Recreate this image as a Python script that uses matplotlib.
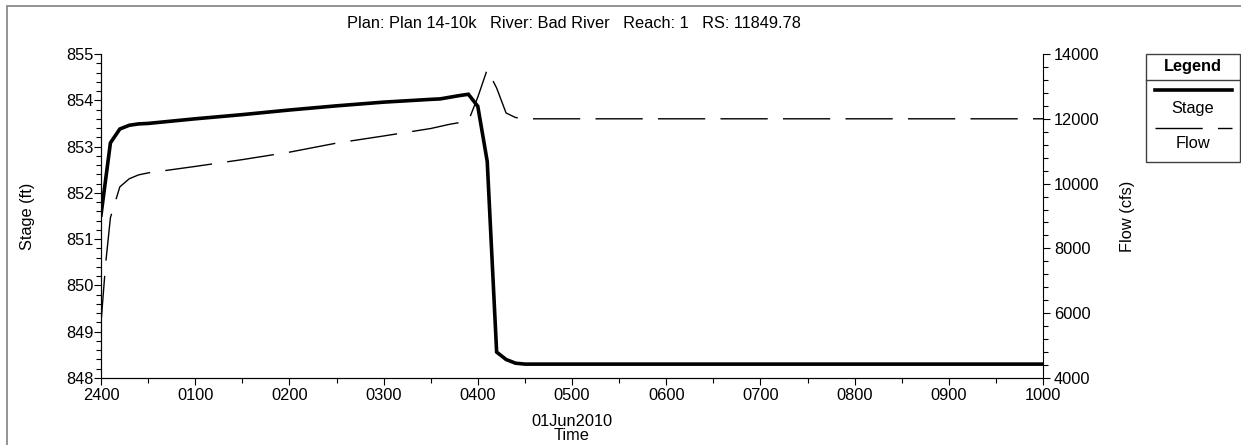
import matplotlib
matplotlib.use("Agg")
import matplotlib.pyplot as plt
from matplotlib.lines import Line2D
from matplotlib.patches import Rectangle

# DATA (hours after 2400 on 31May2010)
stage_t = [0.0, 0.1, 0.2, 0.3, 0.4, 0.5, 0.7, 1.0, 1.5, 2.0, 2.5, 3.0, 3.5,
           3.6, 3.8, 3.9, 4.0, 4.1, 4.2, 4.3, 4.4, 4.5, 10.0]
stage = [851.52, 853.08, 853.38, 853.46, 853.49, 853.5, 853.54, 853.6, 853.69,
         853.79, 853.88, 853.96, 854.02, 854.03, 854.1, 854.13, 853.87, 852.68,
         848.56, 848.4, 848.32, 848.3, 848.3]

flow_t = [0.0, 0.05, 0.1, 0.2, 0.3, 0.4, 0.5, 1.0, 1.5, 2.0, 2.5, 3.0, 3.5,
          3.7, 3.9, 4.0, 4.1, 4.2, 4.3, 4.4, 4.5, 10.0]
flow = [5700, 7550, 8950, 9900, 10150, 10270, 10330, 10530, 10740, 10970, 11250,
        11470, 11700, 11830, 11930, 12670, 13520, 12950, 12180, 12040, 12000, 12000]

hour_ticks = [0, 1, 2, 3, 4, 5, 6, 7, 8, 9, 10]
hour_labels = ["2400", "0100", "0200", "0300", "0400", "0500",
               "0600", "0700", "0800", "0900", "1000"]

TITLE = "Plan: Plan 14-10k   River: Bad River   Reach: 1   RS: 11849.78"

plt.rcParams['font.family'] = ['Liberation Sans', 'DejaVu Sans']
FS = 11.8
W, H = 1241, 445


def fx(px):
    return px / W


def fy(py):
    return 1 - py / H


fig = plt.figure(figsize=(W / 100, H / 100), dpi=100)

# outer gray frame
fig.add_artist(Rectangle((fx(7), -0.02), 1.0, fy(6) + 0.02, transform=fig.transFigure,
                         fill=False, edgecolor="#808080", linewidth=1.2))

ax = fig.add_axes([fx(101), fy(378), fx(1043) - fx(101), fy(54) - fy(378)])
ax2 = ax.twinx()

ax.plot(stage_t, stage, color="black", linewidth=2.6, solid_joinstyle="miter")
ax2.plot(flow_t, flow, color="black", linewidth=1.0, dashes=(34, 11))

ax.set_xlim(0, 10)
ax.set_ylim(848, 855)
ax2.set_ylim(4000, 14000)

ax.set_xticks(hour_ticks)
ax.set_xticklabels(hour_labels)
ax.set_xticks([h + 0.5 for h in hour_ticks[:-1]], minor=True)
ax.set_yticks([848, 849, 850, 851, 852, 853, 854, 855])
ax.set_yticks([848 + 0.2 * i for i in range(36)], minor=True)
ax2.set_yticks([4000, 6000, 8000, 10000, 12000, 14000])
ax2.set_yticks([4000 + 400 * i for i in range(26)], minor=True)

for a in (ax, ax2):
    a.spines["top"].set_visible(False)
    a.tick_params(which="major", length=5, width=0.8, labelsize=FS)
    a.tick_params(which="minor", length=3.5, width=0.8)
ax.spines["right"].set_visible(False)
ax.tick_params(axis="y", pad=0.5)
ax.tick_params(axis="x", pad=2)
ax2.tick_params(axis="y", pad=3)

ax.set_ylabel("Stage (ft)", fontsize=FS)
ax.yaxis.set_label_coords((35 - 101) / 942, 0.5)
ax2.set_ylabel("Flow (cfs)", fontsize=FS)
ax2.yaxis.set_label_coords((1120 - 101) / 942, 0.5)

fig.text(fx(572), fy(422), "01Jun2010", fontsize=FS, ha="center", va="center")
fig.text(fx(572), fy(436), "Time", fontsize=FS, ha="center", va="center")
fig.text(fx(574), fy(23), TITLE, fontsize=FS, ha="center", va="center")

# LEGEND BOX
fig.add_artist(Rectangle((fx(1146), fy(162)), fx(1240) - fx(1146), fy(54) - fy(162),
                         transform=fig.transFigure, fill=False, edgecolor="#404040", linewidth=1.0))
fig.add_artist(Line2D([fx(1146), fx(1240)], [fy(80), fy(80)], transform=fig.transFigure,
                      color="#404040", linewidth=1.0))
fig.text(fx(1193), fy(67), "Legend", fontsize=FS, fontweight="bold", ha="center", va="center")
fig.add_artist(Line2D([fx(1155), fx(1232)], [fy(90), fy(90)], transform=fig.transFigure,
                      color="black", linewidth=2.6))
fig.text(fx(1193), fy(108), "Stage", fontsize=FS, ha="center", va="center")
fig.add_artist(Line2D([fx(1155), fx(1232)], [fy(128), fy(128)], transform=fig.transFigure,
                      color="black", linewidth=1.0, dashes=(34, 11)))
fig.text(fx(1193), fy(143), "Flow", fontsize=FS, ha="center", va="center")

fig.savefig("out.png", dpi=100)
